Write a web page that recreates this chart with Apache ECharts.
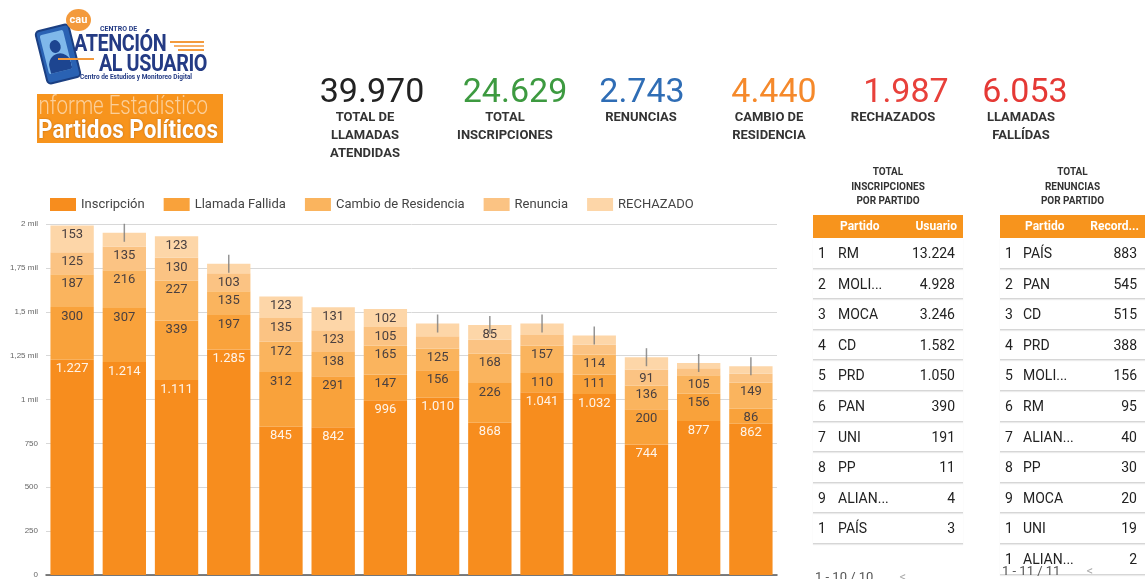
<!DOCTYPE html>
<html>
<head>
<meta charset="utf-8">
<script src="https://cdn.jsdelivr.net/npm/echarts@6/dist/echarts.min.js"></script>
<style>
  html, body { margin: 0; padding: 0; background: #fff; }
  body { width: 1145px; height: 579px; position: relative; overflow: hidden; font-family: Roboto, "Noto Sans", sans-serif; }
  #chart { position: absolute; left: 0; top: 0; width: 1145px; height: 579px; }
  .abs { position: absolute; }
  .kpi-num { position: absolute; top: 70px; height: 40px; line-height: 40px; font-size: 34px; text-align: center; width: 160px; }
  .kpi-lbl { position: absolute; top: 108px; line-height: 18px; font-size: 13px; font-weight: bold; color: #333; text-align: center; width: 160px; }
  .tbl-title { position: absolute; font-size: 10px; font-weight: bold; color: #333; line-height: 14.5px; text-align: center; }
  .tbl-head { position: absolute; height: 23px; background: #F7941D; color: #fff; font-weight: bold; font-size: 12px; line-height: 23px; }
  .row { position: absolute; height: 30.6px; line-height: 30px; font-size: 14px; color: #222; border-bottom: 1px solid #d6d6d6; box-shadow: 0 1px 1px rgba(0,0,0,0.08); box-sizing: border-box; }
  .foot { position: absolute; font-size: 13px; color: #555; }
</style>
</head>
<body>
<div id="chart"></div>
<div id="overlay"></div>
<script>
  // datos del grafico (barras apiladas)
  var categories = ['1', '2', '3', '4', '5', '6', '7', '8', '9', '10', '11', '12', '13', '14'];
  var inscripcion = [1227, 1214, 1111, 1285, 845, 842, 996, 1010, 868, 1041, 1032, 744, 877, 862];
  var llamadaFallida = [300, 307, 339, 197, 312, 291, 147, 156, 226, 110, 111, 200, 156, 86];
  var cambioResidencia = [187, 216, 227, 135, 172, 138, 165, 125, 168, 157, 114, 136, 105, 149];
  var renuncia = [125, 135, 130, 103, 135, 123, 105, 70, 78, 60, 55, 91, 40, 50];
  var rechazado = [153, 78, 123, 53, 123, 131, 102, 72, 85, 65, 53, 70, 30, 43];
  var yTicks = [0, 250, 500, 750, 1000, 1250, 1500, 1750, 2000];

  // indicadores
  var kpiValues = ['39.970', '24.629', '2.743', '4.440', '1.987', '6.053'];
  var kpiLabels = ['TOTAL DE<br>LLAMADAS<br>ATENDIDAS', 'TOTAL<br>INSCRIPCIONES', 'RENUNCIAS', 'CAMBIO DE<br>RESIDENCIA', 'RECHAZADOS', 'LLAMADAS<br>FALLÍDAS'];

  // tablas
  var inscIdx = ['1', '2', '3', '4', '5', '6', '7', '8', '9', '1'];
  var inscPartidos = ['RM', 'MOLI...', 'MOCA', 'CD', 'PRD', 'PAN', 'UNI', 'PP', 'ALIAN...', 'PAÍS'];
  var inscUsuarios = ['13.224', '4.928', '3.246', '1.582', '1.050', '390', '191', '11', '4', '3'];
  var renIdx = ['1', '2', '3', '4', '5', '6', '7', '8', '9', '1', '1'];
  var renPartidos = ['PAÍS', 'PAN', 'CD', 'PRD', 'MOLI...', 'RM', 'ALIAN...', 'PP', 'MOCA', 'UNI', 'ALIAN...'];
  var renRecords = ['883', '545', '515', '388', '156', '95', '40', '30', '20', '19', '2'];

  var colors = ['#F78D1E', '#F9A23B', '#FAB45E', '#FBC383', '#FDD6A8'];
  var names = ['Inscripción', 'Llamada Fallida', 'Cambio de Residencia', 'Renuncia', 'RECHAZADO'];
  var stacks = [inscripcion, llamadaFallida, cambioResidencia, renuncia, rechazado];
  var minLabel = 80;

  function fmt(v) {
    return String(v).replace(/\B(?=(\d{3})+(?!\d))/g, '.');
  }

  var totals = categories.map(function (c, i) {
    return stacks.reduce(function (s, arr) { return s + arr[i]; }, 0);
  });
  var hiddenMarks = categories.map(function (c, i) {
    var hidden = stacks.some(function (arr) { return arr[i] < minLabel; });
    return hidden ? totals[i] : '-';
  });

  var series = stacks.map(function (arr, k) {
    return {
      name: names[k],
      type: 'bar',
      stack: 'total',
      barCategoryGap: '17%',
      itemStyle: { color: colors[k] },
      label: {
        show: true,
        position: 'insideTop',
        distance: 3,
        fontFamily: 'Roboto',
        fontSize: 13,
        color: k === 0 ? 'rgba(255,255,255,0.9)' : '#4a4040',
        formatter: function (p) { return p.value < minLabel ? '' : fmt(p.value); }
      },
      data: arr
    };
  });
  series.push({
    type: 'scatter',
    symbol: 'rect',
    symbolSize: [1.5, 18],
    itemStyle: { color: '#7a7a7a' },
    silent: true,
    z: 5,
    data: hiddenMarks
  });

  var myChart = echarts.init(document.getElementById('chart'));
  var option = {
    animation: false,
    color: colors,
    legend: {
      data: names,
      left: 45,
      top: 193,
      itemWidth: 26,
      itemHeight: 13,
      itemGap: 19,
      icon: 'rect',
      textStyle: { color: '#444', fontSize: 13, fontFamily: 'Roboto' }
    },
    grid: { left: 46, right: 368, top: 224, bottom: 3 },
    xAxis: {
      type: 'category',
      data: categories,
      axisTick: { show: false },
      axisLabel: { show: false },
      axisLine: { lineStyle: { color: '#555', width: 1.5 } }
    },
    yAxis: {
      type: 'value',
      min: yTicks[0],
      max: yTicks[yTicks.length - 1],
      interval: 250,
      axisLine: { show: false },
      axisTick: { show: false },
      axisLabel: {
        color: '#666',
        fontSize: 8,
        margin: 8,
        formatter: function (v) {
          if (v < 1000) return String(v);
          return String(v / 1000).replace('.', ',') + ' mil';
        }
      },
      splitLine: { lineStyle: { color: '#d8d8d8', width: 1 } }
    },
    series: series
  };
  myChart.setOption(option);

  // encabezado, indicadores y tablas en HTML
  var html = '';
  // logo
  html += '<div class="abs" style="left:40px;top:26px;width:32px;height:52px;background:#2a62b3;border:2px solid #1b3f82;border-radius:5px;transform:rotate(-14deg);"></div>';
  html += '<div class="abs" style="left:44px;top:32px;width:24px;height:40px;background:#7fb8ea;border-radius:2px;transform:rotate(-14deg);overflow:hidden;">' +
          '<div class="abs" style="left:7px;top:8px;width:11px;height:13px;border-radius:50%;background:#1d4590;"></div>' +
          '<div class="abs" style="left:2px;top:22px;width:22px;height:22px;border-radius:50% 50% 0 0;background:#1d4590;"></div></div>';
  html += '<div class="abs" style="left:66px;top:9px;width:25px;height:22px;border-radius:50%;background:#F39A3C;color:#fff;font-weight:bold;font-size:11px;line-height:21px;text-align:center;">cau</div>';
  html += '<div class="abs" style="left:100px;top:25px;font-size:7px;font-weight:bold;color:#243b84;">CENTRO DE</div>';
  html += '<div class="abs" style="left:74px;top:30px;font-size:23px;font-weight:bold;color:#243b84;transform:scaleX(0.86);transform-origin:left;letter-spacing:-0.5px;">ATENCIÓN</div>';
  html += '<div class="abs" style="left:170px;top:41px;width:34px;height:2px;background:#F39A3C;"></div>';
  html += '<div class="abs" style="left:174px;top:45px;width:30px;height:2px;background:#F6B06A;"></div>';
  html += '<div class="abs" style="left:178px;top:49px;width:26px;height:2px;background:#F39A3C;"></div>';
  html += '<div class="abs" style="left:58px;top:58px;width:36px;height:2px;background:#F39A3C;"></div>';
  html += '<div class="abs" style="left:99px;top:50px;font-size:23px;font-weight:bold;color:#243b84;transform:scaleX(0.86);transform-origin:left;letter-spacing:-0.5px;">AL USUARIO</div>';
  html += '<div class="abs" style="left:80px;top:73px;font-size:6.5px;font-weight:bold;color:#243b84;white-space:nowrap;">Centro de Estudios y Monitoreo Digital</div>';
  // recuadro naranja
  html += '<div class="abs" style="left:37px;top:94px;width:186px;height:49px;background:#F7941D;overflow:hidden;">' +
          '<div class="abs" style="left:-4px;top:-3px;font-size:25px;font-weight:300;color:rgba(255,255,255,0.55);white-space:nowrap;transform:scaleX(0.82);transform-origin:left;">Informe Estadístico</div>' +
          '<div class="abs" style="left:1px;top:21px;font-size:25px;font-weight:bold;color:#fff;white-space:nowrap;transform:scaleX(0.9);transform-origin:left;text-shadow:0 0 2px rgba(120,60,0,0.5);">Partidos Políticos</div></div>';

  // indicadores
  var kpiCenters = [372, 515, 642, 774, 906, 1025];
  var kpiLblCenters = [365, 505, 641, 769, 893, 1021];
  var kpiColors = ['#222', '#3d9a40', '#2f6db5', '#f5892b', '#e8413b', '#e53935'];
  kpiValues.forEach(function (v, i) {
    html += '<div class="kpi-num" style="left:' + (kpiCenters[i] - 80) + 'px;color:' + kpiColors[i] + ';">' + v + '</div>';
    html += '<div class="kpi-lbl" style="left:' + (kpiLblCenters[i] - 80) + 'px;">' + kpiLabels[i] + '</div>';
  });

  // tablas
  function table(left, width, title, head2, idx, partidos, vals, foot, footY, idxW) {
    var h = '';
    h += '<div class="tbl-title" style="left:' + left + 'px;top:165px;width:' + width + 'px;">' + title + '</div>';
    h += '<div class="tbl-head" style="left:' + left + 'px;top:215px;width:' + width + 'px;">' +
         '<span class="abs" style="left:' + (idxW + 2) + 'px;">Partido</span>' +
         '<span class="abs" style="right:6px;">' + head2 + '</span></div>';
    partidos.forEach(function (p, i) {
      h += '<div class="row" style="left:' + left + 'px;top:' + (238 + i * 30.6) + 'px;width:' + width + 'px;">' +
           '<span class="abs" style="left:5px;">' + idx[i] + '</span>' +
           '<span class="abs" style="left:' + idxW + 'px;">' + p + '</span>' +
           '<span class="abs" style="right:8px;">' + vals[i] + '</span></div>';
    });
    h += '<div class="foot" style="left:' + (left + 2) + 'px;top:' + footY + 'px;">' + foot +
         '<span style="color:#aaa;margin-left:26px;">&lt;</span></div>';
    return h;
  }
  html += table(813, 150, 'TOTAL<br>INSCRIPCIONES<br>POR PARTIDO', 'Usuario', inscIdx, inscPartidos, inscUsuarios, '1 - 10 / 10', 569, 25);
  html += table(1000, 145, 'TOTAL<br>RENUNCIAS<br>POR PARTIDO', 'Record...', renIdx, renPartidos, renRecords, '1 - 11 / 11', 563, 23);
  document.getElementById('overlay').innerHTML = html;
</script>
</body>
</html>
